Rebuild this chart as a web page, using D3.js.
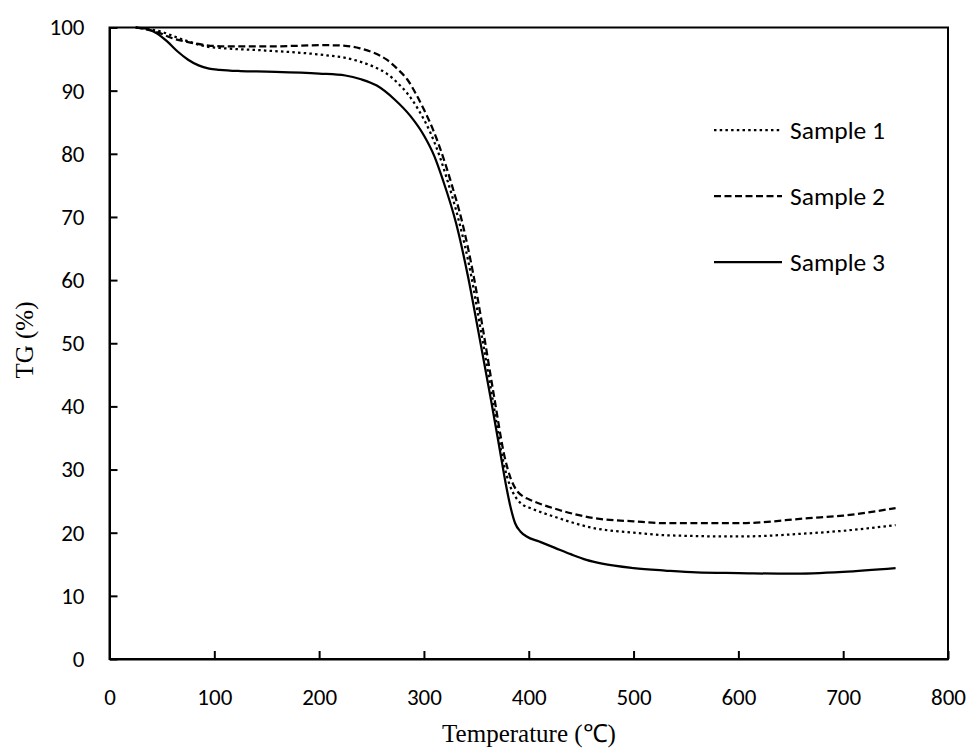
<!DOCTYPE html>
<html>
<head>
<meta charset="utf-8">
<script src="https://cdn.jsdelivr.net/npm/d3@7"></script>
<style>
  html, body { margin: 0; padding: 0; background: #fff; }
  svg { display: block; }
  .tick text { font-family: Carlito, Calibri, Lato, sans-serif; font-size: 23px; fill: #000; }
</style>
</head>
<body>
<svg id="chart" width="971" height="749"></svg>
<script>
// Thermogravimetric curves: residual mass (%) vs temperature (°C)
const sampleNames = ["Sample 1", "Sample 2", "Sample 3"];

const sample1Temp = [25,35,50,60,75,92,110,144,207,225,239,252,264.5,275,284,295,306,315,322,333,344.5,354,365.5,376,382,388,394.5,400,425,463,500,531,600,667,700,750];
const sample1TG   = [100,99.8,99.3,98.7,97.8,97.0,96.7,96.4,95.6,95.2,94.6,93.8,92.7,91.2,89.6,86.9,83.4,79.6,76.0,69.6,61.2,52.3,41.2,31,27.5,25.5,24.4,24.0,22.5,20.7,20.0,19.6,19.4,19.9,20.3,21.2];

const sample2Temp = [25,35,48,60,75,92,110,150,207,225,239,252,264.5,275,284,292,300,308,316,326,336,347,355,367,377,383,388,395,400,425,463,500,531,600,667,700,750];
const sample2TG   = [100,99.7,99.1,98.3,97.7,97.2,97.0,97.0,97.2,97.1,96.7,96.0,94.9,93.4,91.8,89.6,87.0,84.1,80.6,75.4,69.5,61.0,53.5,41.5,32,28.5,26.8,25.7,25.3,23.8,22.3,21.8,21.5,21.5,22.3,22.7,23.9];

const sample3Temp = [25,35,45,55,65,75,85,95,105,125,150,200,225,240,255,272,287,300,310,318,331,342,352,364,372,378,383,387,392,398,410,425,440,455,470,500,530,560,600,650,700,750];
const sample3TG   = [100,99.8,99.1,97.8,96.2,94.9,94.0,93.5,93.3,93.1,93.0,92.7,92.4,91.8,90.8,88.6,86.0,82.9,79.6,75.9,68.8,60.6,51.8,41,33.5,27.8,23.8,21.5,20.2,19.4,18.6,17.6,16.6,15.7,15.1,14.4,14.0,13.7,13.6,13.5,13.8,14.4];

const xTicks = [0,100,200,300,400,500,600,700,800];
const yTicks = [0,10,20,30,40,50,60,70,80,90,100];

const series = [
  { name: sampleNames[0], temp: sample1Temp, tg: sample1TG, dash: "2.5,3.2" },
  { name: sampleNames[1], temp: sample2Temp, tg: sample2TG, dash: "7,3.5" },
  { name: sampleNames[2], temp: sample3Temp, tg: sample3TG, dash: null }
];

const svg = d3.select("#chart");
const plotLeft = 109.5, plotRight = 948, plotTop = 27.5, plotBottom = 659;

const x = d3.scaleLinear().domain([0, 800]).range([plotLeft, plotRight]);
const y = d3.scaleLinear().domain([0, 100]).range([plotBottom, plotTop]);

// plot frame
svg.append("rect")
  .attr("x", plotLeft).attr("y", plotTop)
  .attr("width", plotRight - plotLeft).attr("height", plotBottom - plotTop)
  .attr("fill", "none").attr("stroke", "#000").attr("stroke-width", 2);

// axes with inward ticks
const xAxis = svg.append("g")
  .attr("transform", `translate(0,${plotBottom})`)
  .call(d3.axisBottom(x).tickValues(xTicks).tickSizeInner(-8).tickSizeOuter(0).tickPadding(30));
const yAxis = svg.append("g")
  .attr("transform", `translate(${plotLeft},0)`)
  .call(d3.axisLeft(y).tickValues(yTicks).tickSizeInner(-8).tickSizeOuter(0).tickPadding(25));
[xAxis, yAxis].forEach(g => {
  g.select(".domain").attr("stroke", "#000").attr("stroke-width", 2);
  g.selectAll(".tick line").attr("stroke", "#000").attr("stroke-width", 2);
});

// curves
const line = d3.line()
  .x(d => x(d[0]))
  .y(d => y(d[1]))
  .curve(d3.curveMonotoneX);

series.forEach(s => {
  const pts = s.temp.map((t, i) => [t, s.tg[i]]);
  svg.append("path")
    .datum(pts)
    .attr("d", line)
    .attr("fill", "none")
    .attr("stroke", "#000")
    .attr("stroke-width", 2.25)
    .attr("stroke-dasharray", s.dash);
});

// legend
const legendY = [130, 196, 262];
series.forEach((s, i) => {
  const g = svg.append("g").attr("transform", `translate(714,${legendY[i]})`);
  g.append("line")
    .attr("x1", 0).attr("x2", 68).attr("y1", 0).attr("y2", 0)
    .attr("stroke", "#000").attr("stroke-width", 2.25)
    .attr("stroke-dasharray", s.dash);
  g.append("text")
    .attr("x", 76).attr("y", 0).attr("dy", "0.35em")
    .attr("font-family", "Carlito, Calibri, Lato, sans-serif")
    .attr("font-size", 25.5)
    .text(s.name);
});

// axis titles
svg.append("text")
  .attr("transform", "translate(24,340) rotate(-90)")
  .attr("text-anchor", "middle")
  .attr("dy", "0.35em")
  .attr("font-family", "'Liberation Serif', 'Times New Roman', serif")
  .attr("font-size", 25)
  .text("TG (%)");

svg.append("text")
  .attr("x", 529).attr("y", 733)
  .attr("text-anchor", "middle")
  .attr("dy", "0.35em")
  .attr("font-family", "'Liberation Serif', 'Times New Roman', serif")
  .attr("font-size", 25)
  .text("Temperature (℃)");
</script>
</body>
</html>
